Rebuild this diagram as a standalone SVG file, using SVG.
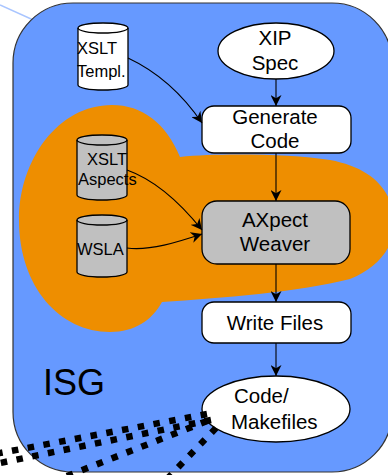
<svg xmlns="http://www.w3.org/2000/svg" width="388" height="475" viewBox="0 0 388 475">
  <style>
    text { font-family: "Liberation Sans", Arial, sans-serif; fill: #000; }
    .lbl { font-size: 20.5px; text-anchor: middle; }
    .cyl-t { font-size: 16.5px; }
    .box { stroke: #000; stroke-width: 1.3; }
    .white { fill: #fff; }
    .gray { fill: #c0c0c0; }
    .flow { fill: none; stroke: #000; stroke-width: 1.1; marker-end: url(#arrow); }
    .dots { fill: none; stroke: #000; stroke-width: 6.5; stroke-dasharray: 6.5 9.5; }
  </style>
  <defs>
    <marker id="arrow" viewBox="0 0 10 10" refX="10" refY="5" markerWidth="11" markerHeight="11" orient="auto" markerUnits="userSpaceOnUse">
      <path d="M0,0 L10,5 L0,10 L3,5 z" fill="#000"/>
    </marker>
  </defs>

  <!-- background link -->
  <line x1="0" y1="5" x2="40" y2="23" stroke="#a9c5ff" stroke-width="1.5"/>

  <!-- ISG container -->
  <g id="isg">
    <rect x="13" y="3" width="379" height="469" rx="60" ry="60" fill="#6699ff" stroke="#333" stroke-width="1.2"/>
    <text x="43" y="395" font-size="36px">ISG</text>
  </g>

  <!-- aspect region -->
  <g id="aspect-region">
    <path d="M180,157 C166,123 142,105 112,105 C58,105 19,160 19,220 C19,287 60,332 110,332 C135,332 152,320 162,302 C220,298 300,292 350,279 C377,268 394,248 394,225 C394,190 372,168 330,160 C290,154 220,153 180,157 Z" fill="#ee8e00"/>
  </g>

  <g id="xslt-templ">
    <path class="box white" d="M78,28 a25,5 0 0 1 50,0 v57 a25,5 0 0 1 -50,0 z"/>
    <path class="box" fill="none" d="M78,28 a25,5 0 0 0 50,0"/>
    <text class="cyl-t" x="77" y="54">XSLT</text>
    <text class="cyl-t" x="77" y="77">Templ.</text>
  </g>

  <g id="xslt-aspects">
    <path class="box gray" d="M77,140 a25,5 0 0 1 50,0 v55 a25,5 0 0 1 -50,0 z"/>
    <path class="box" fill="none" d="M77,140 a25,5 0 0 0 50,0"/>
    <text class="cyl-t" x="87" y="165">XSLT</text>
    <text class="cyl-t" x="78" y="185">Aspects</text>
  </g>

  <g id="wsla">
    <path class="box gray" d="M77,220 a25,5 0 0 1 50,0 v52 a25,5 0 0 1 -50,0 z"/>
    <path class="box" fill="none" d="M77,220 a25,5 0 0 0 50,0"/>
    <text class="cyl-t" x="77" y="255">WSLA</text>
  </g>

  <g id="xip-spec">
    <ellipse class="box white" cx="276" cy="51" rx="58" ry="28"/>
    <text class="lbl" x="275" y="45">XIP</text>
    <text class="lbl" x="275" y="70">Spec</text>
  </g>

  <g id="generate-code">
    <rect class="box white" x="202" y="106" width="149" height="47" rx="12" ry="12"/>
    <text class="lbl" x="275" y="124">Generate</text>
    <text class="lbl" x="275" y="148">Code</text>
  </g>

  <g id="axpect-weaver">
    <rect class="box gray" x="202" y="201" width="148" height="63" rx="15" ry="15"/>
    <text class="lbl" x="275" y="227">AXpect</text>
    <text class="lbl" x="275" y="251">Weaver</text>
  </g>

  <g id="write-files">
    <rect class="box white" x="202" y="302" width="149" height="41" rx="12" ry="12"/>
    <text class="lbl" x="275" y="330">Write Files</text>
  </g>

  <g id="code-makefiles">
    <ellipse class="box white" cx="276" cy="409" rx="74" ry="33"/>
    <text x="234" y="403" font-size="20.5px">Code/</text>
    <text x="231" y="429" font-size="20.5px">Makefiles</text>
  </g>

  <g id="connectors">
    <line class="flow" x1="276" y1="79" x2="276" y2="106"/>
    <line class="flow" x1="276" y1="153" x2="276" y2="201"/>
    <line class="flow" x1="276" y1="264" x2="276" y2="302"/>
    <line class="flow" x1="276" y1="343" x2="276" y2="376"/>
    <path class="flow" d="M128,58 C160,73 185,98 202,123"/>
    <path class="flow" d="M127,170 C155,180 182,205 202,230"/>
    <path class="flow" d="M127,248 C150,251 178,242 202,234"/>
    <!-- outgoing dotted links -->
    <path class="dots" d="M207,414 L-5,454"/>
    <path class="dots" d="M211,420 L-5,464"/>
    <path class="dots" d="M207,421 L62,478"/>
    <path class="dots" d="M216,428 L166,480"/>
  </g>
</svg>
